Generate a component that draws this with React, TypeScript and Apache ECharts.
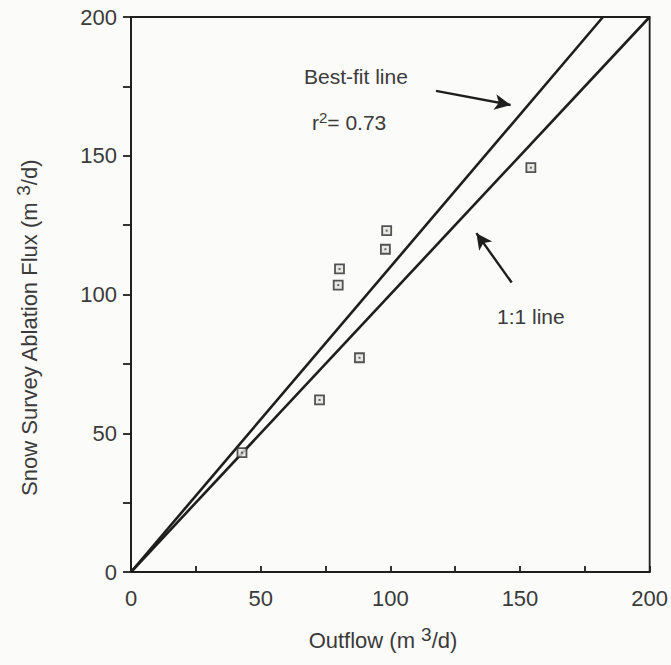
import React, { useEffect, useRef } from "react";
import * as echarts from "echarts";

// Observations: outflow (x) vs snow survey ablation flux (y), m3/d
const outflow = [42.8, 72.7, 79.9, 80.4, 88.1, 98.1, 98.6, 154.2];
const ablation = [43.0, 62.0, 103.4, 109.2, 77.2, 116.3, 123.0, 145.7];

// Reference lines (end points)
const oneToOneLine = [
  [0, 0],
  [200, 200],
];
const bestFitLine = [
  [0, 0],
  [182, 200],
];

// Arrow annotations: [tail, tip] in data units
const bestFitArrow = [
  [117.6, 173.4],
  [146.4, 168.3],
];
const oneToOneArrow = [
  [146.8, 104.3],
  [133.2, 122.1],
];

const axisMin = 0;
const axisMax = 200;
const tickStep = 25;
const labelStep = 50;

const FONT = "'Liberation Sans', Arial, Helvetica, sans-serif";
const INK = "#1e1e1e";
const TEXT = "#3a3a3a";

export default function App() {
  const ref = useRef<HTMLDivElement>(null);

  useEffect(() => {
    document.body.style.margin = "0";
    if (!ref.current) return;
    const chart = echarts.init(ref.current, undefined, { renderer: "svg" });

    const points = outflow.map((x, i) => [x, ablation[i]]);

    const axisCommon = {
      type: "value" as const,
      min: axisMin,
      max: axisMax,
      interval: tickStep,
      splitLine: { show: false },
      axisLine: { show: true, lineStyle: { color: INK, width: 1.8 } },
    };

    const labelFmt = (v: number) => (v % labelStep === 0 ? String(v) : "");

    chart.setOption({
      animation: false,
      backgroundColor: "#fbfbf9",
      grid: {
        left: 131,
        right: 20,
        top: 17,
        bottom: 93,
        show: true,
        borderColor: INK,
        borderWidth: 1.8,
        backgroundColor: "transparent",
      },
      xAxis: {
        ...axisCommon,
        axisTick: { show: true, inside: true, length: 6, lineStyle: { color: INK, width: 1.8 } },
        axisLabel: {
          formatter: labelFmt,
          color: TEXT,
          fontFamily: FONT,
          fontSize: 22,
          margin: 15,
          showMaxLabel: true,
        },
      },
      yAxis: {
        ...axisCommon,
        axisTick: { show: true, inside: false, length: 8, lineStyle: { color: INK, width: 1.8 } },
        axisLabel: {
          formatter: labelFmt,
          color: TEXT,
          fontFamily: FONT,
          fontSize: 22,
          margin: 14,
          showMaxLabel: true,
        },
      },
      series: [
        {
          type: "line",
          data: oneToOneLine,
          symbol: "none",
          lineStyle: { color: INK, width: 2.6 },
          silent: true,
        },
        {
          type: "line",
          data: bestFitLine,
          symbol: "none",
          lineStyle: { color: INK, width: 2.6 },
          silent: true,
          markLine: {
            silent: true,
            symbol: ["none", "arrow"],
            symbolSize: [12, 16],
            label: { show: false },
            lineStyle: { color: INK, width: 2.4, type: "solid" },
            data: [
              [{ coord: bestFitArrow[0] }, { coord: bestFitArrow[1] }],
              [{ coord: oneToOneArrow[0] }, { coord: oneToOneArrow[1] }],
            ],
          },
        },
        {
          type: "scatter",
          data: points,
          symbol: "rect",
          symbolSize: 9,
          itemStyle: { color: "#e4e4e0", borderColor: "#2a2a2a", borderWidth: 1.8 },
          z: 5,
        },
        {
          type: "scatter",
          data: points,
          symbol: "rect",
          symbolSize: 2,
          itemStyle: { color: "#444" },
          z: 6,
          silent: true,
        },
      ],
      graphic: [
        {
          type: "text",
          left: 304,
          top: 66,
          style: { text: "Best-fit line", font: `21px ${FONT}`, fill: TEXT },
        },
        {
          type: "text",
          left: 312,
          top: 110,
          style: {
            text: "r{sup|2}= 0.73",
            font: `21px ${FONT}`,
            fill: TEXT,
            rich: {
              sup: { font: `15px ${FONT}`, fill: TEXT, padding: [0, 0, 10, 0] },
            },
          },
        },
        {
          type: "text",
          left: 497,
          top: 306,
          style: { text: "1:1 line", font: `21px ${FONT}`, fill: TEXT },
        },
        {
          type: "text",
          x: 383,
          y: 640,
          style: {
            text: "Outflow (m {sup|3}/d)",
            font: `22px ${FONT}`,
            fill: TEXT,
            align: "center",
            verticalAlign: "middle",
            rich: {
              sup: { font: `19px ${FONT}`, fill: TEXT, padding: [0, 0, 11, 0] },
            },
          },
        },
        {
          type: "text",
          x: 29,
          y: 328,
          rotation: Math.PI / 2,
          style: {
            text: "Snow Survey Ablation Flux (m {sup|3}/d)",
            font: `22px ${FONT}`,
            fill: TEXT,
            align: "center",
            verticalAlign: "middle",
            rich: {
              sup: { font: `19px ${FONT}`, fill: TEXT, padding: [0, 0, 11, 0] },
            },
          },
        },
      ],
    });

    return () => chart.dispose();
  }, []);

  return <div ref={ref} style={{ width: 671, height: 665 }} />;
}
